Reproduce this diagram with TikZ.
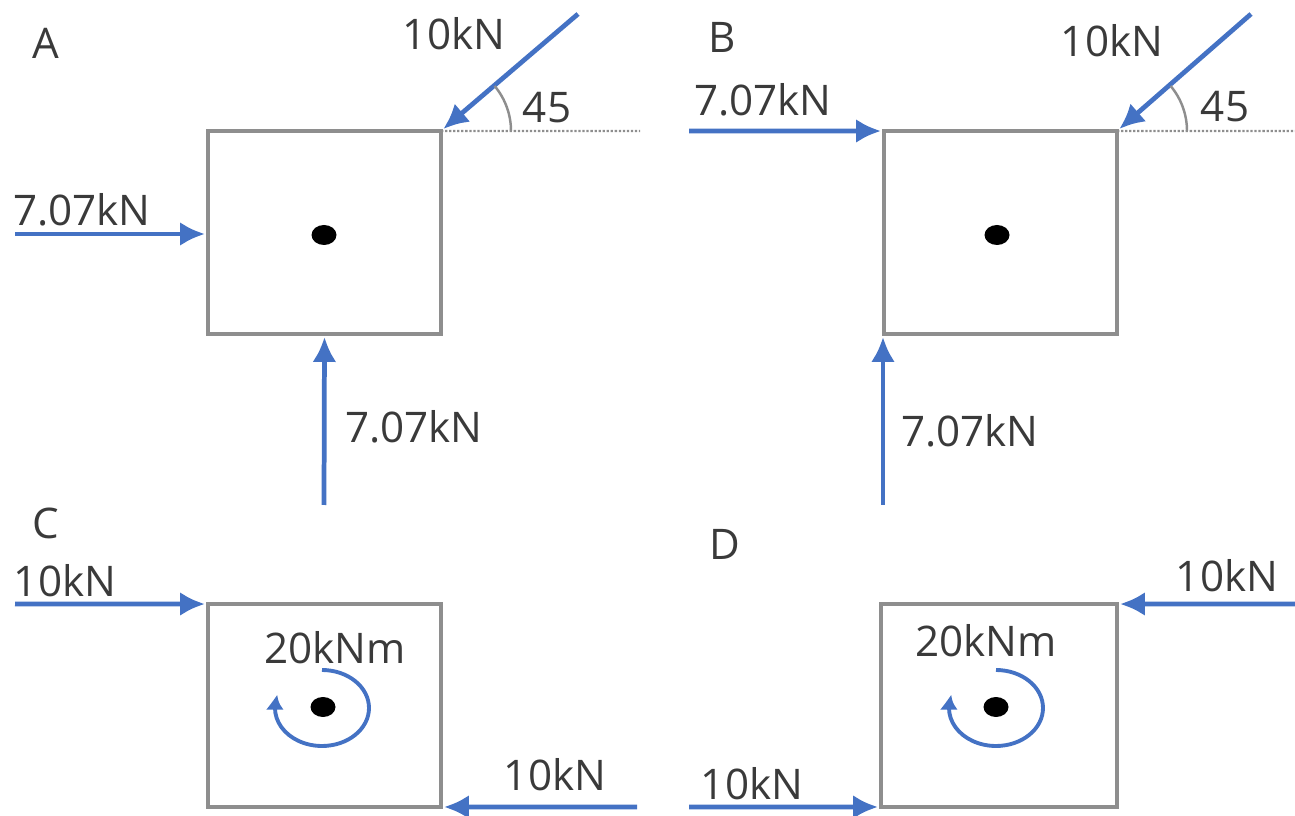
\documentclass[tikz,border=0pt]{standalone}
\usepackage{fontspec}
\setmainfont{Open Sans}
\usetikzlibrary{arrows.meta,bending,shapes.geometric}
\definecolor{forceblue}{HTML}{4472C4}
\definecolor{plategray}{HTML}{8E8E8E}
\definecolor{labelgray}{HTML}{3A3A3A}
\tikzset{
  >={Latex[length=.5cm,width=.48cm]},
}
\tikzstyle{every node}=[font=\fontsize{24}{28}\selectfont,text=labelgray]
\tikzstyle{force}=[line width=2.7pt,forceblue,->,shorten >=.06cm]
\tikzstyle{moment}=[line width=2.2pt,forceblue,-{Latex[length=.3cm,width=.36cm,bend]}]
\tikzstyle{plate}=[draw=plategray,line width=2pt,minimum height=4.06cm,inner sep=0pt,outer sep=0pt]
\tikzstyle{pivot}=[fill=black,ellipse,draw=none,minimum width=.5cm,minimum height=.4cm,inner sep=0pt]
\tikzstyle{refline}=[plategray,line width=1.3pt,densely dotted]
\tikzstyle{anglearc}=[plategray,line width=1.4pt]

\begin{document}
\begin{tikzpicture}[x=.02cm,y=.02cm]
    \useasboundingbox (0,0) rectangle (1295,815);
    % plates
    \node[plate,minimum width=4.66cm] (plateA) at (324.5,582.5) {};
    \node[plate,minimum width=4.66cm] (plateB) at (1000.5,582.5) {};
    \node[plate,minimum width=4.66cm] (plateC) at (324.5,109.5) {};
    \node[plate,minimum width=4.72cm] (plateD) at (999,109.5) {};
    \node[pivot] (pivotA) at (324,580) {};
    \node[pivot] (pivotB) at (997,580) {};
    \node[pivot] (pivotC) at (323,108) {};
    \node[pivot] (pivotD) at (996,108) {};
    % free ends
    \coordinate (aLeft) at (15,581);
    \coordinate (aLow) at (324,310);
    \coordinate (aSlant) at (578,801);
    \coordinate (aRef) at (640,684);
    \coordinate (bLeft) at (689,684);
    \coordinate (bLow) at (883,310);
    \coordinate (bSlant) at (1251,801);
    \coordinate (bRef) at (1295,684);
    \coordinate (cLeft) at (15,211);
    \coordinate (cRight) at (637,8);
    \coordinate (dRight) at (1295,211);
    \coordinate (dLeft) at (689,8);
    % panel A
    \draw[force] (aLeft)--(plateA.west |- aLeft);
    \draw[force] (aLow)--(plateA.south);
    \draw[refline] (plateA.north east)--(aRef);
    \draw[force] (aSlant)--(plateA.north east);
    \draw[anglearc] (511,684) arc (0:40:70);
    % panel B
    \draw[force] (bLeft)--(plateB.north west);
    \draw[force] (bLow)--(plateB.south west -| bLow);
    \draw[refline] (plateB.north east)--(bRef);
    \draw[force] (bSlant)--(plateB.north east);
    \draw[anglearc] (1187,684) arc (0:40:70);
    % panel C
    \draw[force] (cLeft)--(plateC.north west);
    \draw[force] (cRight)--(plateC.south east);
    \draw[moment] (322,145) arc (90:-200:47 and 38);
    % panel D
    \draw[force] (dRight)--(plateD.north east);
    \draw[force] (dLeft)--(plateD.south west);
    \draw[moment] (996,145) arc (90:-200:47 and 38);
    % labels
    \node (nameA) at (46,772) {A};
    \node (nameB) at (722,778) {B};
    \node (nameC) at (46,292) {C};
    \node (nameD) at (725,271) {D};
    \node (slantA) at (454,781) {10kN};
    \node (angleA) at (547,707) {45};
    \node (leftA) at (82,605) {7.07kN};
    \node (lowA) at (414,388) {7.07kN};
    \node (slantB) at (1112,774) {10kN};
    \node (angleB) at (1225,708) {45};
    \node (leftB) at (763,715) {7.07kN};
    \node (lowB) at (970,384) {7.07kN};
    \node (leftC) at (65,234) {10kN};
    \node (torqueC) at (335,167) {20kNm};
    \node (rightC) at (555,40) {10kN};
    \node (rightD) at (1227,239) {10kN};
    \node (torqueD) at (986,174) {20kNm};
    \node (leftD) at (752,31) {10kN};
\end{tikzpicture}
\end{document}
